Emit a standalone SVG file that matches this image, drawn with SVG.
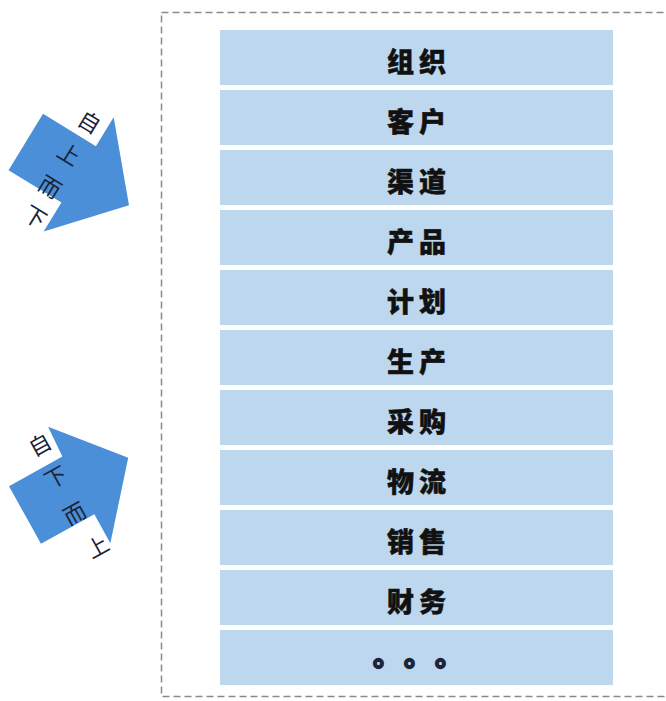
<svg xmlns="http://www.w3.org/2000/svg" width="666" height="701" viewBox="0 0 666 701">
  <style>
    .row { fill: #bdd7ee; }
    .rowtxt { font-family: "Noto Sans CJK SC", "Noto Sans", sans-serif; font-size: 27px; font-weight: 900; fill: #111111; stroke: #111111; stroke-width: 0.5; text-anchor: middle; dominant-baseline: central; letter-spacing: 5px; }
    .dots { font-family: "Noto Sans CJK SC", "Noto Sans", sans-serif; font-size: 28px; font-weight: 900; fill: #1c2438; stroke: #1c2438; stroke-width: 1.6; dominant-baseline: central; }
    .arrow { fill: #4a8fd8; }
    .atxt { font-family: "Noto Sans CJK SC", "Noto Sans", sans-serif; font-size: 22px; fill: #1b2236; text-anchor: middle; dominant-baseline: central; }
    .frame { fill: none; stroke: #8a8a8a; stroke-width: 1.5; stroke-dasharray: 7 4; }
  </style>
  <rect width="666" height="701" fill="#ffffff"/>
  <rect class="frame" x="161.5" y="12.5" width="520" height="684"/>

  <g id="arrow-top-down" transform="translate(25.8,142) rotate(31.5)">
    <polygon class="arrow" points="0,-33 62,-33 62,-67 121,0 62,67 62,33 0,33"/>
    <text class="atxt" x="44" y="-52">自</text>
    <text class="atxt" x="43" y="-14">上</text>
    <text class="atxt" x="44" y="24">而</text>
    <text class="atxt" x="47" y="57">下</text>
  </g>

  <g id="arrow-bottom-up" transform="translate(25,515) rotate(-29)">
    <polygon class="arrow" points="0,-33 61,-33 63,-66 118,0 61,66 61,33 0,33"/>
    <text class="atxt" x="47" y="-56">自</text>
    <text class="atxt" x="45" y="-20">下</text>
    <text class="atxt" x="44" y="21">而</text>
    <text class="atxt" x="48" y="61">上</text>
  </g>

  <g id="row-1"><rect class="row" x="220" y="30" width="393" height="55"/><text class="rowtxt" x="419" y="60">组织</text></g>
  <g id="row-2"><rect class="row" x="220" y="90" width="393" height="55"/><text class="rowtxt" x="419" y="120">客户</text></g>
  <g id="row-3"><rect class="row" x="220" y="150" width="393" height="55"/><text class="rowtxt" x="419" y="180">渠道</text></g>
  <g id="row-4"><rect class="row" x="220" y="210" width="393" height="55"/><text class="rowtxt" x="419" y="240">产品</text></g>
  <g id="row-5"><rect class="row" x="220" y="270" width="393" height="55"/><text class="rowtxt" x="419" y="300">计划</text></g>
  <g id="row-6"><rect class="row" x="220" y="330" width="393" height="55"/><text class="rowtxt" x="419" y="360">生产</text></g>
  <g id="row-7"><rect class="row" x="220" y="390" width="393" height="55"/><text class="rowtxt" x="419" y="420">采购</text></g>
  <g id="row-8"><rect class="row" x="220" y="450" width="393" height="55"/><text class="rowtxt" x="419" y="480">物流</text></g>
  <g id="row-9"><rect class="row" x="220" y="510" width="393" height="55"/><text class="rowtxt" x="419" y="540">销售</text></g>
  <g id="row-10"><rect class="row" x="220" y="570" width="393" height="55"/><text class="rowtxt" x="419" y="600">财务</text></g>
  <g id="row-11"><rect class="row" x="220" y="630" width="393" height="55"/><text class="dots" x="373 404 435" y="654">。。。</text></g>
</svg>
